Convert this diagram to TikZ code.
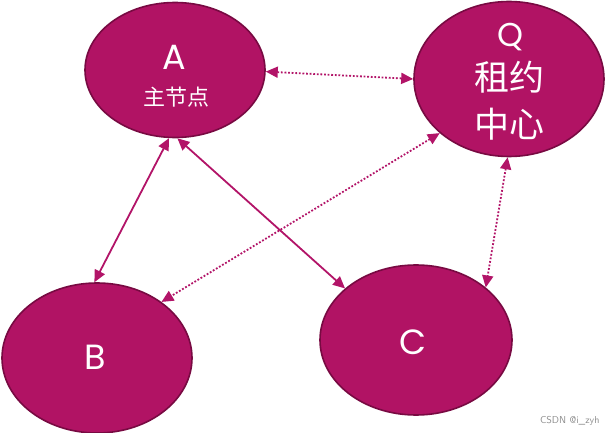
\documentclass[tikz,border=0pt]{standalone}
\usepackage{fontspec}
\setmainfont{Poppins}
\newfontfamily\cjk{Noto Sans CJK SC}
\definecolor{leasefill}{RGB}{177, 19, 100}
\definecolor{leaseedge}{RGB}{120, 10, 66}
\definecolor{linkpink}{RGB}{178, 20, 104}
\usetikzlibrary{shapes.geometric, arrows.meta}

\begin{document}
\begin{tikzpicture}[x=1pt, y=-1pt,
  server/.style={ellipse, draw=leaseedge, line width=1.6pt, fill=leasefill, inner sep=0pt, text=white, align=center},
  solidlink/.style={{Triangle[length=12pt,width=11pt]}-{Triangle[length=12pt,width=11pt]}, draw=linkpink, line width=1.8pt},
  dotlink/.style={{Triangle[length=12pt,width=11pt]}-{Triangle[length=12pt,width=11pt]}, draw=linkpink, line width=1.8pt, dash pattern=on 1.8pt off 1.8pt}]
  \useasboundingbox (0,0) rectangle (606,433);

  % Servers
  \node[server, minimum width=180pt, minimum height=135pt] (A) at (175,70) {};
  \node[server, minimum width=190pt, minimum height=155pt] (Q) at (509,79) {};
  \node[server, minimum width=190pt, minimum height=150pt] (B) at (97,358) {};
  \node[server, minimum width=192pt, minimum height=150pt] (C) at (416,340) {};

  % Labels
  \node[text=white, font=\fontsize{35}{35}\selectfont] (Atitle) at (174,57) {A};
  \node[text=white, font=\cjk\fontsize{22}{22}\selectfont] (Asub) at (176,97) {主节点};
  \node[text=white, font=\fontsize{33}{33}\selectfont] (Qtitle) at (510,37) {Q};
  \node[text=white, font=\cjk\fontsize{35}{47}\selectfont, align=center] (Qsub) at (509,101) {租约\\中心};
  \node[text=white, font=\fontsize{35}{35}\selectfont] (Btitle) at (95,357) {B};
  \node[text=white, font=\fontsize{35}{35}\selectfont] (Ctitle) at (413,342) {C};

  % Links
  \draw[solidlink] (A.-95) -- (B.92);
  \draw[solidlink] (A.-88) -- (C.144);
  \draw[dotlink] (A.-1) -- (Q.180);
  \draw[dotlink] (Q.-142) -- (B.41);
  \draw[dotlink] (Q.-91) -- (C.37);

  % Watermark
  \node[text=black!45, font=\sffamily\fontsize{10}{10}\selectfont, anchor=east] (mark) at (603,421) {CSDN @i\_zyh};
\end{tikzpicture}
\end{document}
